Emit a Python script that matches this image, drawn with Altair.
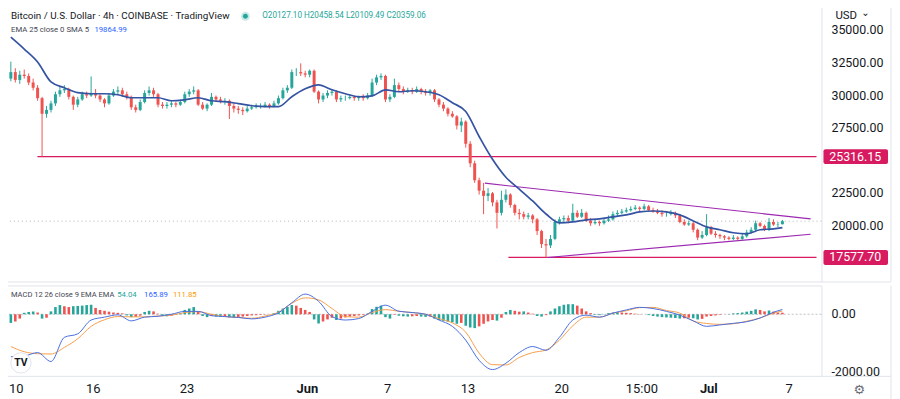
import altair as alt
import numpy as np
import pandas as pd

FONT = "Roboto"

# ---------------- data ----------------
opens = [31300, 31800, 31200, 31600, 31500, 31000, 30600, 29800, 28600, 28900, 29400, 30100,
         30400, 30500, 29900, 29300, 29700, 30100, 30000, 30200, 30000, 29700, 29400, 30000,
         30300, 30400, 30100, 29900, 29100, 28900, 29500, 30200, 30400, 30100, 29300, 29200,
         29300, 29400, 29300, 29500, 30100, 30300, 30400, 29300, 29000, 29300, 29900, 29700,
         29600, 29600, 29200, 29000, 28900, 28800, 29000, 29100, 29200, 29200, 29300, 29200,
         29400, 29800, 30400, 30600, 31800, 31800, 31700, 31600, 31900, 30300, 29700, 30000,
         30200, 30300, 29700, 29800, 29800, 29900, 29800, 29900, 29800, 30000, 31000, 31400,
         31500, 29700, 29900, 30800, 30500, 30300, 30400, 30300, 30500, 30300, 30200, 30400,
         29700, 29300, 29000, 28600, 28400, 27700, 28000, 26300, 24800, 23500, 22700, 22300,
         22500, 21800, 21000, 22000, 22400, 21600, 21000, 20900, 20700, 20800, 20500, 19600,
         18600, 18500, 19000, 20300, 20500, 20600, 20400, 21000, 20700, 21000, 20400, 20200,
         20300, 20200, 20400, 20500, 20900, 21000, 21100, 21200, 21300, 21400, 21300, 21500,
         21200, 21100, 21000, 20900, 20900, 21000, 20800, 20300, 20100, 20200, 19700, 19100,
         19300, 19900, 19400, 19300, 19200, 19100, 19000, 19100, 19000, 19200, 19500, 19700,
         20200, 20000, 19700, 20300, 20100, 20127.10]
highs = [32600, 32100, 31900, 32000, 31700, 31300, 30800, 29900, 29200, 29600, 30300, 30700,
         30800, 30600, 30000, 29900, 30300, 30300, 31470, 30500, 30100, 29800, 30200, 30500,
         30700, 30600, 30300, 30000, 29300, 29700, 30400, 30700, 30600, 30200, 29500, 29500,
         29600, 29500, 29700, 30300, 30500, 30700, 30500, 29500, 29400, 30200, 30000, 29900,
         29800, 29700, 29400, 29200, 29100, 29200, 29300, 29400, 29400, 29500, 29400, 29600,
         30000, 30600, 30800, 32000, 32100, 32470, 31900, 32000, 32000, 30400, 30200, 30400,
         30500, 30400, 30000, 30000, 30100, 30000, 30000, 30100, 30200, 31300, 31600, 31700,
         31600, 30100, 31300, 31000, 30700, 30600, 30600, 30700, 30600, 30500, 30500, 30500,
         29800, 29500, 29100, 28800, 28500, 28300, 28100, 26500, 25000, 23700, 23300, 22900,
         22600, 22000, 22700, 22800, 22500, 21700, 21300, 21100, 21000, 20900, 20600, 19700,
         19000, 19300, 20500, 20700, 20800, 20800, 21700, 21200, 21300, 21100, 20600, 20500,
         20400, 20600, 20800, 21100, 21200, 21300, 21400, 21500, 21600, 21500, 21700, 21600,
         21400, 21300, 21200, 21100, 21200, 21100, 20900, 20500, 20400, 20300, 19800, 19600,
         20900, 20000, 19600, 19400, 19300, 19200, 19300, 19200, 19400, 19700, 19900, 20400,
         20300, 20100, 20600, 20500, 20300, 20458.54]
lows = [31100, 31000, 30900, 31300, 30800, 30400, 29600, 25316, 28300, 28700, 29200, 29900,
        30200, 29700, 28900, 29100, 29600, 29800, 29900, 29800, 29500, 29100, 29300, 29900,
        30100, 29900, 29700, 28900, 28700, 28800, 29400, 30000, 29900, 29100, 29000, 29000,
        29100, 29100, 29200, 29400, 29900, 30100, 29200, 28900, 28800, 29200, 29500, 29400,
        29300, 28200, 28700, 28600, 28500, 28700, 28900, 29000, 29000, 29100, 29000, 29100,
        29300, 29700, 30200, 30500, 31500, 31500, 31400, 31400, 30200, 29400, 29500, 29800,
        30000, 29500, 29500, 29600, 29700, 29600, 29600, 29600, 29700, 29900, 30800, 31200,
        29500, 29500, 29800, 30300, 30100, 30200, 30100, 30200, 30100, 30000, 30000, 29500,
        29100, 28800, 28400, 28300, 27400, 27200, 26000, 24500, 23300, 22400, 20900, 21900,
        21500, 19800, 20800, 21800, 21400, 20800, 20500, 20500, 20500, 20200, 19300, 18300,
        17578, 18300, 18900, 20100, 20300, 20200, 20300, 20600, 20600, 20300, 20000, 20100,
        20000, 20100, 20300, 20400, 20700, 20900, 21000, 21100, 21200, 21100, 21200, 21100,
        21000, 20900, 20700, 20700, 20800, 20600, 20200, 20000, 20000, 19500, 18900, 19000,
        19200, 19300, 19100, 19000, 18900, 18900, 18900, 18900, 18900, 19100, 19400, 19600,
        19900, 19600, 19600, 20000, 19900, 20109.49]
closes = [31800, 31200, 31600, 31500, 31000, 30600, 29800, 28600, 28900, 29400, 30100, 30400,
          30500, 29900, 29300, 29700, 30100, 30000, 30200, 30000, 29700, 29400, 30000, 30300,
          30400, 30100, 29900, 29100, 28900, 29500, 30200, 30400, 30100, 29300, 29200, 29300,
          29400, 29300, 29500, 30100, 30300, 30400, 29300, 29000, 29300, 29900, 29700, 29600,
          29600, 29200, 29000, 28900, 28800, 29000, 29100, 29200, 29200, 29300, 29200, 29400,
          29800, 30400, 30600, 31800, 31800, 31700, 31600, 31900, 30300, 29700, 30000, 30200,
          30300, 29700, 29800, 29800, 29900, 29800, 29900, 29800, 30000, 31000, 31400, 31500,
          29700, 29900, 30800, 30500, 30300, 30400, 30300, 30500, 30300, 30200, 30400, 29700,
          29300, 29000, 28600, 28400, 27700, 28000, 26300, 24800, 23500, 22700, 22300, 22500,
          21800, 21000, 22000, 22400, 21600, 21000, 20900, 20700, 20800, 20500, 19600, 18600,
          18500, 19000, 20300, 20500, 20600, 20400, 21000, 20700, 21000, 20400, 20200, 20300,
          20200, 20400, 20500, 20900, 21000, 21100, 21200, 21300, 21400, 21300, 21500, 21200,
          21100, 21000, 20900, 20900, 21000, 20800, 20300, 20100, 20200, 19700, 19100, 19300,
          19900, 19400, 19300, 19200, 19100, 19000, 19100, 19000, 19200, 19500, 19700, 20200,
          20000, 19700, 20300, 20100, 20127.10, 20359.06]

ema25 = [34480, 33570, 32580, 31050, 30600, 30220, 30140, 30140, 30060, 29830, 29830, 29830,
         29600, 29680, 29830, 29600, 29530, 29380, 29220, 29150, 29150, 29910, 30520, 30820,
         30440, 30140, 29910, 29980, 30440, 30290, 30370, 30290, 30060, 29450, 28770, 26860,
         25110, 23730, 22820, 21910, 20910, 20230, 20300, 20460, 20530, 20690, 20840, 21070,
         21140, 21070, 20840, 20380, 19920, 19700, 19470, 19390, 19700, 19770, 19864.99]

macd_line = [-1475, -1450, -1330, -1640, -800, -680, -200, -100, -20, -230, -100, -70,
             0, 100, 100, -50, -80, -110, -160, -100, 50, 400, 700, 450,
             -80, -200, -150, 100, 315, 105, 60, 0, -200, -420, -900, -1600,
             -1920, -1700, -1330, -1120, -1250, -800, -200, -30, -100, 40, 150, 240,
             200, 100, -30, -230, -420, -370, -315, -260, -130, 70, 165.89]
signal_line = [-1120, -1300, -1370, -1380, -1150, -850, -420, -190, -80, -90, -90, -60,
               -35, 60, 90, 0, -80, -110, -140, -60, 70, 380, 570, 500,
               200, -80, -100, 60, 160, 105, 60, 0, -150, -300, -620, -1350,
               -1750, -1760, -1500, -1330, -1240, -900, -400, -100, -100, 40, 120, 230,
               240, 130, 40, -230, -320, -350, -330, -240, -130, 40, 111.85]
histogram = [-300, -250, -150, 50, 80, 100, 60, -150, -120, 100, 250, 320,
             280, 250, 280, 290, 300, 320, 330, 220, 150, 120, 90, 60,
             50, 30, -40, -100, -90, -50, 80, 120, 100, 20, -60, -70,
             -50, -20, 40, 150, 200, 250, 100, -60, -100, -60, -80, -90,
             -70, -110, -120, -100, -80, -60, -40, -30, -20, -10, 0, 40,
             120, 200, 260, 320, 300, 220, 150, 80, -180, -320, -250, -180,
             -120, -200, -150, -110, -80, -60, -40, -20, 20, 180, 260, 300,
             -100, -150, -20, -50, -70, -80, -70, -60, -80, -90, -80, -150,
             -200, -230, -260, -280, -330, -300, -400, -460, -480, -420, -330, -250,
             -200, -220, -120, 80, 150, 120, 90, 100, 60, 20, -60, -80,
             -30, 100, 200, 280, 330, 350, 350, 300, 200, 100, 40, -20,
             -30, 10, 40, 60, 80, 60, 50, 40, 20, 10, 0, -30,
             -60, -80, -100, -110, -120, -130, -150, -140, -120, -140, -180, -160,
             -80, -60, -40, -20, 0, 10, 30, 40, 60, 90, 120, 170,
             150, 100, 130, 90, 60, 54.04]

level_prices = [25316.15, 17577.70]
level_start_day = [1.82, 37.02]
wedge_start_day = [35.26, 39.96]
wedge_start_price = [23277, 17578]
wedge_end_day = [59.61, 59.61]
wedge_end_price = [20534, 19352]
last_price = [20359.06]

date_tick_days = [0, 6, 13, 22, 28, 34, 41, 47, 52, 58]
date_tick_labels = ["10", "16", "23", "Jun", "7", "13", "20", "15:00", "Jul", "7"]
month_labels = ["Jun", "Jul"]
price_ticks = [20000, 22500, 27500, 30000, 32500, 35000]
macd_ticks = [0, -2000]

assert len(opens) == len(highs) == len(lows) == len(closes) == len(histogram) == 174
assert len(ema25) == len(macd_line) == len(signal_line) == 59

# ---------------- tables ----------------
n = len(closes)
t_candle = np.arange(n) / 3 - 1 / 6
candles = pd.DataFrame({"t": t_candle, "open": opens, "high": highs, "low": lows, "close": closes})
candles["dir"] = np.where(candles["close"] >= candles["open"], "up", "down")

t_line = list(np.arange(58) - 1 / 6) + [57.5]
lines = pd.DataFrame({"t": t_line, "ema": ema25, "macd": macd_line, "signal": signal_line})

h = np.array(histogram, dtype=float)
prev = np.concatenate([[h[0]], h[:-1]])
hist_cls = np.where(h >= 0, np.where(h >= prev, "up_strong", "up_weak"),
                    np.where(h <= prev, "dn_strong", "dn_weak"))
hist_df = pd.DataFrame({"t": t_candle, "hist": h, "cls": hist_cls})

X_DOMAIN = [-0.528, 60.05]
levels = pd.DataFrame({"price": level_prices, "start": level_start_day,
                       "end": [X_DOMAIN[1]] * 2,
                       "label": [f"{p:.2f}" for p in level_prices]})
wedge = pd.DataFrame({"t0": wedge_start_day, "p0": wedge_start_price,
                      "t1": wedge_end_day, "p1": wedge_end_price})
lastp = pd.DataFrame({"p": last_price})
zero = pd.DataFrame({"v": [0]})
one = pd.DataFrame({"k": [0]})
price_lab = pd.DataFrame({"v": price_ticks, "label": [f"{v:.2f}" for v in price_ticks]})
macd_lab = pd.DataFrame({"v": macd_ticks, "label": [f"{v:.2f}" for v in macd_ticks]})
dates = pd.DataFrame({"d": date_tick_days, "label": date_tick_labels})
dates["month"] = dates["label"].isin(month_labels)
dates["first"] = dates["d"] == dates["d"].min()

# ---------------- styling ----------------
W = 826
H_TOP = 281
H_BOT = 91
UP, DOWN = "#26a69a", "#ef5350"
CRIMSON = "#d81b60"
PURPLE = "#9c27b0"
EMA_C = "#3553a3"
GRID = "#e0e3eb"
TXT = "#131722"

xs = alt.Scale(domain=X_DOMAIN, nice=False, zero=False)
ys_top = alt.Scale(domain=[15732, 37150], nice=False, zero=False)
ys_bot = alt.Scale(domain=[-2138, 1000], nice=False, zero=False)
dir_scale = alt.Scale(domain=["up", "down"], range=[UP, DOWN])
hist_scale = alt.Scale(domain=["up_strong", "up_weak", "dn_strong", "dn_weak"],
                       range=["#26a69a", "#b2dfdb", "#ff5252", "#ffcdd2"])


def X(field):
    return alt.X(field, scale=xs, axis=None)


def YT(field):
    return alt.Y(field, scale=ys_top, axis=None)


def YB(field):
    return alt.Y(field, scale=ys_bot, axis=None)


def text(txt, x, y, color=TXT, size=9.5, weight="normal", align="left", font=FONT):
    return alt.Chart(one).mark_text(align=align, baseline="middle", fontSize=size,
                                    fontWeight=weight, font=font, color=color).encode(
        x=alt.value(x), y=alt.value(y), text=alt.value(txt))


def seg(x, x2, y, y2=None):
    enc = dict(x=alt.value(x), y=alt.value(y))
    if x2 is not None:
        enc["x2"] = alt.value(x2)
    if y2 is not None:
        enc["y2"] = alt.value(y2)
    return alt.Chart(one).mark_rule(color=GRID, strokeWidth=1).encode(**enc)


# ---------------- top pane ----------------
price_line = alt.Chart(lastp).mark_rule(color="#9598a1", strokeDash=[1, 3], opacity=0.7).encode(
    y=YT("p:Q"))
level_rules = alt.Chart(levels).mark_rule(color=CRIMSON, strokeWidth=1.3).encode(
    x=X("start:Q"), x2="end:Q", y=YT("price:Q"))
wedge_rules = alt.Chart(wedge).mark_rule(color=PURPLE, strokeWidth=1.1).encode(
    x=X("t0:Q"), x2="t1:Q", y=YT("p0:Q"), y2="p1:Q")
cbase = alt.Chart(candles).encode(x=X("t:Q"),
                                  color=alt.Color("dir:N", scale=dir_scale, legend=None))
wicks = cbase.mark_rule(strokeWidth=1).encode(y=YT("low:Q"), y2="high:Q")
bodies = cbase.mark_bar(size=3).encode(y=YT("open:Q"), y2="close:Q")
ema = alt.Chart(lines).mark_line(color=EMA_C, strokeWidth=1.7, interpolate="monotone").encode(
    x=X("t:Q"), y=YT("ema:Q"))
price_labels = alt.Chart(price_lab).mark_text(align="left", baseline="middle", font=FONT,
                                              fontSize=12.5, color=TXT).encode(
    x=alt.value(836), y=YT("v:Q"), text="label:N")
level_box = alt.Chart(levels).mark_rect(color=CRIMSON, yOffset=-7.5, y2Offset=7.5,
                                        cornerRadius=2).encode(
    x=alt.value(828), x2=alt.value(893), y=YT("price:Q"), y2="price:Q")
level_txt = alt.Chart(levels).mark_text(color="white", font=FONT, fontSize=12.5,
                                        align="center", baseline="middle").encode(
    x=alt.value(860), y=YT("price:Q"), text="label:N")

dot_halo = alt.Chart(one).mark_point(filled=True, size=80, color=UP, opacity=0.25).encode(
    x=alt.value(246), y=alt.value(14))
dot = alt.Chart(one).mark_point(filled=True, size=25, color=UP, opacity=1).encode(
    x=alt.value(246), y=alt.value(14))
usd_bg = alt.Chart(one).mark_rect(color="white").encode(
    x=alt.value(830), x2=alt.value(894), y=alt.value(9), y2=alt.value(21))

top = alt.layer(
    price_line, level_rules, wedge_rules, wicks, bodies, ema, price_labels, level_box, level_txt,
    text("Bitcoin / U.S. Dollar · 4h · COINBASE · TradingView", 10, 14, size=9.9),
    dot_halo, dot,
    text("O20127.10 H20458.54 L20109.49 C20359.06", 263, 14, color=UP, size=8.2),
    text("EMA 25 close 0 SMA 5", 10, 28, color="#434651", size=7.8),
    text("19864.99", 94, 28, color="#2962ff", size=7.8),
    usd_bg,
    text("USD", 840, 14, size=11.5),
    text("⌄", 866, 11, size=10, font="DejaVu Sans"),
    seg(W, 896, H_TOP + 0.5),
    seg(896, None, 0, H_TOP),
).properties(width=W, height=H_TOP)

# ---------------- MACD pane ----------------
zero_line = alt.Chart(zero).mark_rule(color="#9598a1", strokeDash=[2, 2], opacity=0.6).encode(
    y=YB("v:Q"))
bars = alt.Chart(hist_df).mark_bar(size=2.6).encode(
    x=X("t:Q"), y=YB("hist:Q"), y2=alt.datum(0),
    color=alt.Color("cls:N", scale=hist_scale, legend=None))
macd_l = alt.Chart(lines).mark_line(color="#4a6fe0", strokeWidth=1, interpolate="monotone").encode(
    x=X("t:Q"), y=YB("macd:Q"))
sig_l = alt.Chart(lines).mark_line(color="#f59e4c", strokeWidth=1, interpolate="monotone").encode(
    x=X("t:Q"), y=YB("signal:Q"))
macd_labels = alt.Chart(macd_lab).mark_text(align="left", baseline="middle", font=FONT,
                                            fontSize=12.5, color=TXT).encode(
    x=alt.value(836), y=YB("v:Q"), text="label:N")
date_plain = alt.Chart(dates).transform_filter("!datum.month && !datum.first").mark_text(
    align="center", baseline="middle", font=FONT, fontSize=13, color=TXT).encode(
    x=X("d:Q"), y=alt.value(H_BOT + 13), text="label:N")
date_first = alt.Chart(dates).transform_filter("datum.first").mark_text(
    align="left", baseline="middle", font=FONT, fontSize=13, color=TXT).encode(
    x=alt.value(8), y=alt.value(H_BOT + 13), text="label:N")
date_month = alt.Chart(dates).transform_filter("datum.month").mark_text(
    align="center", baseline="middle", font=FONT, fontSize=13, fontWeight="bold",
    color=TXT).encode(x=X("d:Q"), y=alt.value(H_BOT + 13), text="label:N")
logo_circle = alt.Chart(one).mark_point(filled=True, size=420, color="white", stroke=GRID,
                                        strokeWidth=1, opacity=1).encode(
    x=alt.value(20), y=alt.value(78))

bottom = alt.layer(
    zero_line, bars, sig_l, macd_l, macd_labels, date_plain, date_first, date_month,
    text("MACD 12 26 close 9 EMA EMA", 10, 10, color="#434651", size=7.6),
    text("54.04", 117, 10, color=UP, size=7.8),
    text("165.89", 144, 10, color="#2962ff", size=7.8),
    text("111.85", 173, 10, color="#ff9800", size=7.8),
    logo_circle,
    text("TV", 20, 78, size=10.5, weight="bold", align="center"),
    text("⚙", 864, 105, color="#6a6d78", size=13, align="center", font="DejaVu Sans"),
    seg(W, 896, H_BOT + 0.5),
    seg(896, None, 0, 117),
).properties(width=W, height=H_BOT)

chart = alt.vconcat(top, bottom, spacing=1).properties(
    padding={"left": -8, "top": -8, "right": 0, "bottom": 0},
    background="white",
).configure_view(stroke=GRID, strokeWidth=1)

chart.save("out.html", embed_options={"renderer": "svg", "actions": False})
